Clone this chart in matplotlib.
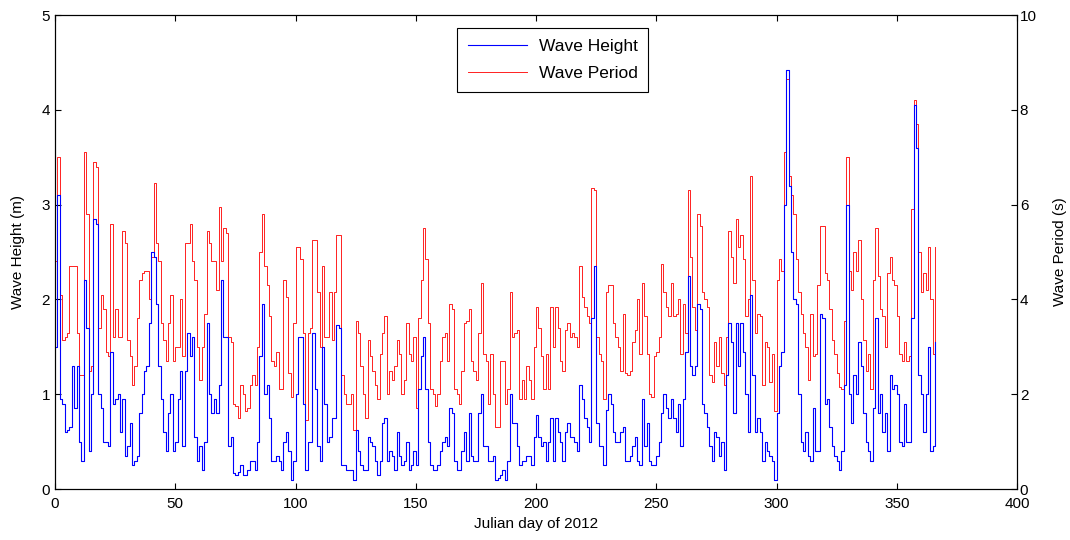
import numpy as np
import matplotlib
matplotlib.use("Agg")
import matplotlib.pyplot as plt

# ── Data (one value per Julian day 0..366) ───────────────────────────────────
wave_height = [
    # 0-39
    1.5, 3.1, 0.95, 0.9, 0.6, 0.62, 0.65, 1.3, 0.85, 1.3,
    0.5, 0.3, 2.2, 1.7, 0.4, 1.0, 2.85, 2.8, 1.0, 0.85,
    0.5, 0.5, 0.45, 1.45, 0.9, 0.95, 1.0, 0.6, 0.95, 0.35,
    0.45, 0.7, 0.25, 0.3, 0.35, 0.8, 1.0, 1.25, 1.3, 1.75,
    # 40-78
    2.5, 2.45, 1.95, 1.3, 0.95, 0.6, 0.4, 0.8, 1.0, 0.4,
    0.5, 0.95, 1.25, 0.45, 1.25, 1.65, 1.4, 1.6, 0.55, 0.3,
    0.45, 0.2, 0.5, 1.75, 1.0, 0.8, 0.95, 0.8, 1.1, 2.2,
    1.6, 1.6, 0.45, 0.55, 0.17, 0.15, 0.18, 0.25, 0.15,
    # 79-118
    0.15, 0.2, 0.3, 0.3, 0.2, 0.5, 1.4, 1.95, 1.0, 1.1,
    0.75, 0.3, 0.3, 0.35, 0.3, 0.2, 0.5, 0.6, 0.4, 0.1,
    0.3, 1.0, 1.6, 1.6, 0.9, 0.2, 0.5, 0.5, 1.65, 1.05,
    0.45, 0.3, 1.5, 0.9, 0.5, 0.55, 0.75, 0.75, 1.73, 1.7,
    # 119-157
    0.25, 0.25, 0.2, 0.2, 0.2, 0.1, 0.62, 0.4, 0.25, 0.2,
    0.2, 0.55, 0.5, 0.45, 0.3, 0.15, 0.3, 0.7, 0.75, 0.3,
    0.4, 0.35, 0.2, 0.6, 0.35, 0.25, 0.3, 0.5, 0.2, 0.25,
    0.4, 0.25, 1.05, 1.4, 1.6, 1.05, 0.5, 0.25, 0.2,
    # 158-197
    0.2, 0.25, 0.4, 0.5, 0.55, 0.45, 0.85, 0.8, 0.3, 0.2,
    0.2, 0.4, 0.6, 0.3, 0.8, 0.35, 0.3, 0.3, 0.8, 1.0,
    0.45, 0.45, 0.3, 0.3, 0.35, 0.1, 0.12, 0.15, 0.2, 0.1,
    0.3, 1.0, 0.7, 0.7, 0.45, 0.25, 0.3, 0.3, 0.35, 0.35,
    # 198-236
    0.25, 0.55, 0.78, 0.55, 0.45, 0.5, 0.3, 0.5, 0.75, 0.3,
    0.75, 0.6, 0.5, 0.3, 0.6, 0.7, 0.55, 0.55, 0.5, 0.4,
    1.1, 0.95, 0.75, 0.65, 0.5, 1.8, 2.35, 0.7, 0.45, 0.45,
    0.25, 0.83, 1.0, 0.9, 0.6, 0.5, 0.5, 0.6, 0.65,
    # 237-276
    0.3, 0.3, 0.35, 0.45, 0.55, 0.3, 0.25, 0.95, 0.45, 0.7,
    0.3, 0.25, 0.25, 0.35, 0.5, 0.8, 1.0, 0.85, 0.75, 0.95,
    0.75, 0.6, 0.9, 0.45, 0.95, 1.45, 2.25, 1.3, 1.2, 1.3,
    1.95, 1.9, 0.9, 0.8, 0.65, 0.45, 0.3, 0.6, 0.55, 0.35,
    # 277-315
    0.5, 0.2, 1.2, 1.75, 1.55, 0.8, 1.75, 1.3, 1.75, 1.45,
    1.0, 0.6, 2.05, 1.2, 0.6, 0.75, 0.6, 0.3, 0.5, 0.4,
    0.35, 0.3, 0.1, 0.8, 1.3, 1.45, 3.0, 4.42, 3.2, 2.5,
    2.0, 1.95, 1.0, 0.5, 0.4, 0.6, 0.35, 0.3, 0.85,
    # 316-366
    0.4, 0.4, 1.85, 1.8, 0.9, 0.95, 0.65, 0.45, 0.35, 0.3,
    0.2, 0.4, 1.1, 3.0, 1.0, 0.7, 1.2, 1.0, 1.55, 1.3,
    0.8, 0.5, 0.4, 0.3, 0.85, 1.8, 0.8, 1.0, 0.6, 0.8,
    0.4, 1.2, 1.05, 1.1, 1.0, 0.5, 0.45, 0.9, 0.5, 0.5,
    1.8, 4.05, 3.6, 1.2, 1.0, 0.6, 1.0, 1.5, 0.4, 0.45,
    1.55,
]

wave_period = [
    # 0-39
    4.8, 7.0, 4.1, 3.15, 3.2, 3.3, 4.7, 4.7, 4.7, 3.3,
    2.4, 2.4, 7.1, 5.8, 2.5, 2.6, 6.9, 6.8, 3.4, 4.1,
    3.8, 2.9, 2.8, 5.6, 3.2, 3.8, 3.2, 3.2, 5.45, 5.2,
    3.15, 2.8, 2.2, 2.6, 3.6, 4.4, 4.55, 4.6, 4.6, 4.0,
    # 40-78
    4.9, 6.45, 5.2, 4.8, 3.5, 3.15, 2.7, 3.5, 4.1, 2.7,
    3.0, 3.0, 4.0, 2.8, 5.2, 5.2, 5.6, 4.8, 4.4, 3.0,
    2.3, 3.0, 3.7, 5.45, 5.2, 4.8, 4.8, 4.2, 5.95, 4.8,
    5.5, 5.4, 3.2, 3.1, 1.8, 1.75, 1.5, 2.2, 2.0,
    # 79-118
    1.65, 1.7, 2.2, 2.4, 2.2, 3.0, 5.0, 5.8, 4.7, 4.3,
    3.65, 2.7, 2.6, 2.9, 2.1, 2.1, 4.4, 4.05, 2.45, 1.95,
    3.5, 5.1, 5.1, 4.85, 3.3, 1.45, 3.3, 3.4, 5.25, 5.25,
    4.15, 3.0, 4.7, 3.2, 3.2, 4.15, 3.15, 4.15, 5.35, 5.35,
    # 119-157
    2.4, 2.0, 1.8, 1.8, 2.0, 1.25, 3.55, 3.3, 2.6, 2.0,
    1.5, 3.15, 2.8, 2.5, 2.2, 1.9, 2.85, 3.3, 3.65, 2.0,
    2.5, 2.3, 2.6, 3.15, 2.85, 2.0, 2.3, 3.5, 2.85, 2.7,
    3.2, 1.7, 3.6, 4.4, 5.5, 4.85, 3.5, 2.1, 2.0,
    # 158-197
    1.75, 2.0, 2.7, 3.2, 3.3, 2.7, 3.9, 3.8, 2.1, 2.0,
    1.8, 2.5, 3.5, 3.55, 3.8, 2.7, 2.5, 2.3, 3.3, 4.35,
    2.85, 2.7, 1.8, 2.85, 2.0, 1.3, 1.3, 2.7, 2.7, 1.8,
    2.1, 4.15, 3.2, 3.3, 3.35, 1.9, 2.3, 1.9, 2.6, 2.3,
    # 198-236
    1.9, 3.0, 3.85, 3.4, 2.8, 2.1, 2.85, 2.1, 3.85, 3.0,
    3.85, 3.4, 2.7, 2.5, 3.35, 3.5, 3.2, 3.3, 3.2, 3.0,
    4.7, 4.05, 3.85, 3.65, 3.5, 6.35, 6.3, 3.2, 2.85, 2.7,
    1.9, 4.15, 4.3, 4.3, 3.5, 3.2, 3.0, 2.5, 3.7,
    # 237-276
    2.45, 2.4, 2.5, 3.1, 3.35, 4.0, 2.85, 4.35, 3.65, 2.85,
    2.0, 1.95, 2.8, 2.9, 3.2, 4.75, 4.15, 3.85, 3.65, 4.35,
    3.65, 3.7, 4.0, 2.85, 3.9, 3.3, 6.3, 4.9, 3.85, 3.35,
    5.8, 5.55, 4.15, 4.0, 3.85, 2.4, 2.25, 3.1, 2.6, 3.2,
    # 277-315
    2.45, 2.2, 3.2, 5.45, 4.9, 4.35, 5.7, 5.1, 5.35, 4.85,
    3.65, 4.0, 6.6, 4.4, 3.3, 3.7, 3.65, 2.2, 3.1, 3.0,
    2.25, 2.85, 1.65, 4.4, 4.85, 4.6, 7.1, 8.65, 6.6, 6.2,
    5.8, 4.85, 4.15, 3.7, 3.3, 3.0, 2.3, 3.7, 2.8,
    # 316-366
    2.85, 4.3, 5.55, 5.55, 4.55, 4.4, 3.8, 3.15, 2.85, 2.45,
    2.15, 2.1, 3.55, 7.0, 4.6, 4.2, 5.0, 4.6, 5.25, 4.0,
    3.15, 2.5, 2.85, 2.1, 4.4, 5.5, 4.5, 3.8, 3.65, 3.0,
    4.55, 4.9, 4.4, 4.3, 3.65, 2.85, 2.7, 3.1, 2.7, 2.8,
    5.9, 8.2, 7.7, 5.0, 4.15, 4.55, 4.2, 5.1, 4.0, 2.85,
    5.1,
]

days = np.arange(len(wave_height))

plt.rcParams["font.family"] = ["Liberation Sans", "DejaVu Sans"]

fig = plt.figure(figsize=(10.7, 5.4), dpi=100)
ax = fig.add_axes([0.0514, 0.0944, 0.8991, 0.8778])
ax2 = ax.twinx()

l1, = ax.plot(days, wave_height, color="#0000ff", lw=0.8, drawstyle="steps-post")
l2, = ax2.plot(days, wave_period, color="#ff2020", lw=0.7,
               drawstyle="steps-post")

ax.set_xlim(0, 400)
ax.set_ylim(0, 5)
ax2.set_ylim(0, 10)
ax.set_xticks(np.arange(0, 401, 50))
ax.set_yticks(np.arange(0, 6, 1))
ax2.set_yticks(np.arange(0, 11, 2))

ax.tick_params(axis="x", direction="in", top=True, labelsize=11, length=4, pad=6)
ax.tick_params(axis="y", direction="in", labelsize=11, length=4)
ax2.tick_params(axis="y", direction="in", labelsize=11, length=4, pad=2)

ax.set_xlabel("Julian day of 2012", fontsize=11, labelpad=4)
ax.set_ylabel("Wave Height (m)", fontsize=11, labelpad=12)
ax2.set_ylabel("Wave Period (s)", fontsize=11, labelpad=12)

for a in (ax, ax2):
    for s in a.spines.values():
        s.set_linewidth(0.8)

leg = ax.legend([l1, l2], ["Wave Height", "Wave Period"],
                loc="upper left", bbox_to_anchor=(0.418, 0.972),
                fontsize=12.5, fancybox=False, framealpha=1,
                edgecolor="black", handlelength=3.4, handletextpad=0.7,
                borderpad=0.6, labelspacing=0.7, borderaxespad=0)
leg.get_frame().set_linewidth(0.8)
leg.set_zorder(10)
ax.set_zorder(ax2.get_zorder() + 1)
ax.patch.set_visible(False)

fig.savefig("out.png", dpi=100)
